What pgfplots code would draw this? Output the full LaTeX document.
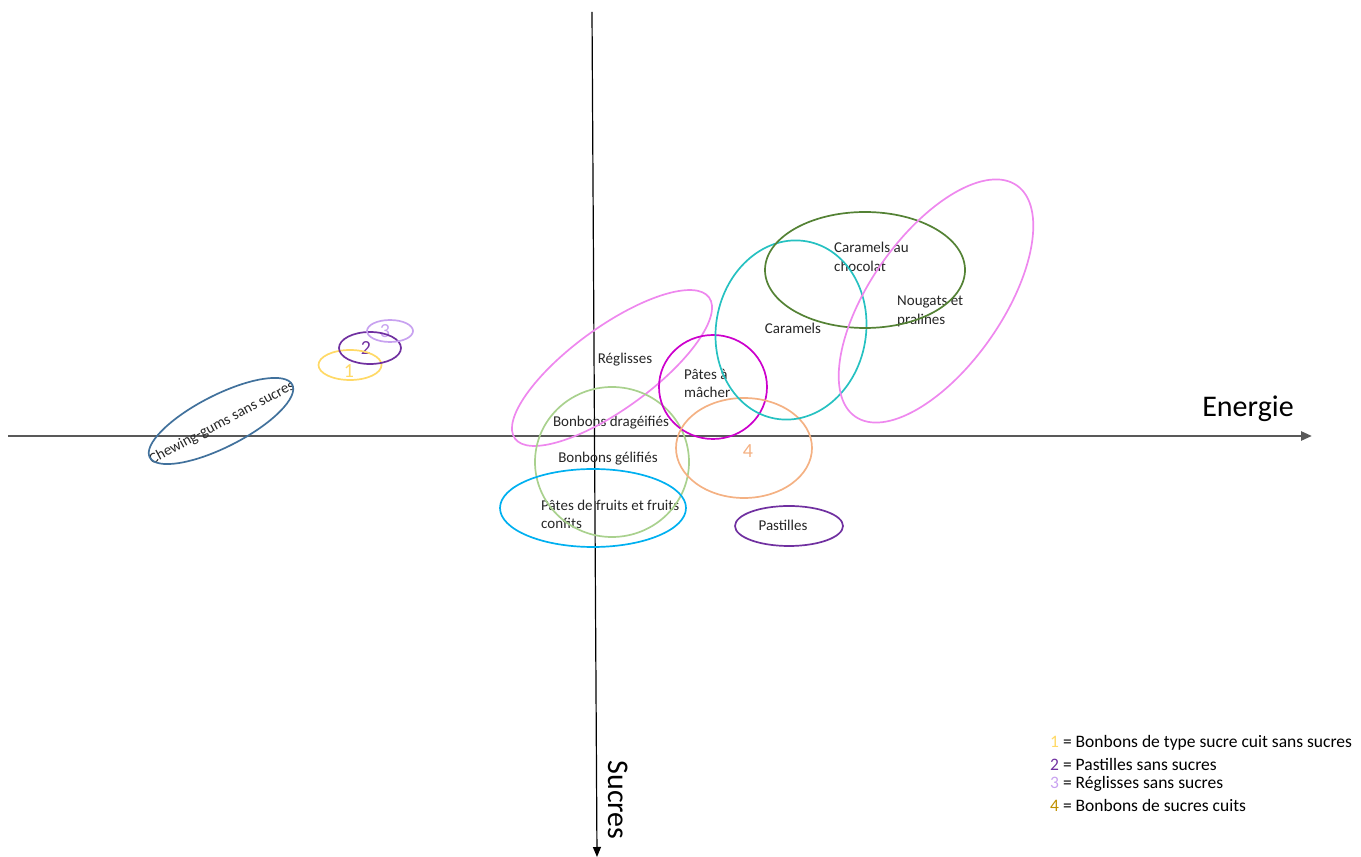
\documentclass[border=0pt]{standalone}
\usepackage{pgfplots}
\pgfplotsset{compat=1.18}
\usepackage{pgfplotstable}
\usepackage{fontspec}
\setmainfont{Carlito}
\usetikzlibrary{arrows.meta}

\definecolor{cChew}{HTML}{41719C}
\definecolor{cOne}{HTML}{FFD966}
\definecolor{cTwo}{HTML}{7030A0}
\definecolor{cThree}{HTML}{C8A2F0}
\definecolor{cPink}{HTML}{EE88EE}
\definecolor{cLGreen}{HTML}{A9D18E}
\definecolor{cSky}{HTML}{00B0F0}
\definecolor{cMag}{HTML}{CC00CC}
\definecolor{cOrange}{HTML}{F4B183}
\definecolor{cTeal}{HTML}{26C1C1}
\definecolor{cDGreen}{HTML}{548235}
\definecolor{cGold}{HTML}{BF9000}
\definecolor{cAxis}{HTML}{595959}
\colorlet{e1}{cChew}
\colorlet{e2}{cOne}
\colorlet{e3}{cTwo}
\colorlet{e4}{cThree}
\colorlet{e5}{cPink}
\colorlet{e6}{cLGreen}
\colorlet{e7}{cSky}
\colorlet{e8}{cMag}
\colorlet{e9}{cOrange}
\colorlet{e10}{cTwo}
\colorlet{e11}{cTeal}
\colorlet{e12}{cDGreen}
\colorlet{e13}{cPink}

% ellipse centre (x = energie, y = sucres, screen-up), half axes a,b, rotation, colour index
\pgfplotstableread{
x     y     a     b    rot  col
-374  15    80    26   27   1
-245  71    31.5  15   0    2
-225  88    31    16   0    3
-205  105   23    11   0    4
17    68    120   41   36   5
17    -26   77    75   0    6
-2    -72   93    39   0    7
118   49    54    52   0    8
149   -12   68    50   0    9
194   -90   54    20   0    10
196   106   90    75   80   11
270   166   100   58   0    12
341   135   141   66   55   13
}\ellipses

\begin{document}
\begin{tikzpicture}
\begin{axis}[
  x=1pt, y=1pt,
  xmin=-595, xmax=766, ymin=-421, ymax=436,
  hide axis, clip=false,
]
\addplot[scatter, only marks, mark=*, mark size=0pt,
  visualization depends on={\thisrow{a}\as\ea},
  visualization depends on={\thisrow{b}\as\eb},
  visualization depends on={\thisrow{rot}\as\er},
  visualization depends on={\thisrow{col}\as\ec},
  scatter/@pre marker code/.code={%
    \pgfmathtruncatemacro\ci{\ec}%
    \begin{pgfscope}%
      \pgfsetstrokecolor{e\ci}%
      \pgfsetlinewidth{1.7pt}%
      \pgftransformrotate{\er}%
      \pgfpathellipse{\pgfpointorigin}{\pgfpoint{\ea pt}{0pt}}{\pgfpoint{0pt}{\eb pt}}%
      \pgfusepath{stroke}%
    \end{pgfscope}},
  scatter/@post marker code/.code={},
] table[x=x, y=y] {\ellipses};

% axes
\addplot[cAxis, line width=2.5pt, -{Triangle[length=11pt,width=9pt]}] coordinates {(-587,0) (717,0)};
\addplot[black, line width=1.2pt, -{Triangle[length=10pt,width=8pt]}] coordinates {(-3,424) (2,-421)};

\begin{scope}[every node/.style={font=\fontsize{15}{18.3}\selectfont, inner sep=0pt, text=black!85}]
\node[rotate=28] at (axis cs:-373,13) {Chewing-gums sans sucres};
\node at (axis cs:30,76) {Réglisses};
\node at (axis cs:16,13) {Bonbons dragéifiés};
\node at (axis cs:13,-23) {Bonbons gélifiés};
\node[anchor=west, align=left] at (axis cs:-54,-78.5) {Pâtes de fruits et fruits\\confits};
\node[anchor=west, align=left] at (axis cs:89,52.5) {Pâtes à\\mâcher};
\node at (axis cs:188,-89) {Pastilles};
\node at (axis cs:198,108) {Caramels};
\node[anchor=west, align=left] at (axis cs:239,179) {Caramels au\\chocolat};
\node[anchor=west, align=left] at (axis cs:302,124.5) {Nougats et\\pralines};
\end{scope}

\begin{scope}[every node/.style={font=\fontsize{20}{24}\selectfont, inner sep=0pt}]
\node[text=cOne] at (axis cs:-246,65) {1};
\node[text=cTwo] at (axis cs:-229,88) {2};
\node[text=cThree] at (axis cs:-210,105) {3};
\node[text=cOrange] at (axis cs:153,-15) {4};
\end{scope}

\node[font=\fontsize{30}{36}\selectfont, inner sep=0pt] at (axis cs:653,27) {Energie};
\node[font=\fontsize{30}{36}\selectfont, inner sep=0pt, rotate=-90] at (axis cs:23,-364) {Sucres};

\begin{scope}[every node/.style={font=\fontsize{17.5}{21}\selectfont, inner sep=0pt, anchor=west}]
\node at (axis cs:455,-307) {\textcolor{cOne}{1} = Bonbons de type sucre cuit sans sucres};
\node at (axis cs:455,-328) {\textcolor{cTwo}{2} = Pastilles sans sucres};
\node at (axis cs:455,-348) {\textcolor{cThree}{3} = Réglisses sans sucres};
\node at (axis cs:455,-369) {\textcolor{cGold}{4} = Bonbons de sucres cuits};
\end{scope}
\end{axis}
\pgfresetboundingbox
\path (current axis.south west) rectangle (current axis.north east);
\end{tikzpicture}
\end{document}
